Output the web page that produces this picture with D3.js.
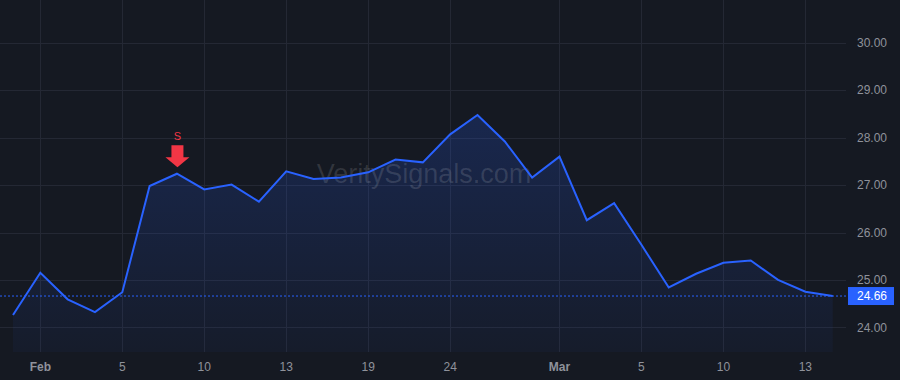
<!DOCTYPE html>
<html>
<head>
<meta charset="utf-8">
<script src="https://cdn.jsdelivr.net/npm/d3@7"></script>
<style>
  html, body { margin: 0; padding: 0; background: #151922; }
  svg { display: block; font-family: "Liberation Sans", Arial, sans-serif; }
</style>
</head>
<body>
<svg id="chart"></svg>
<script>
// datos
const prices = [24.26, 25.15, 24.59, 24.32, 24.74, 26.98, 27.24, 26.91, 27.01, 26.65,
                27.29, 27.13, 27.16, 27.27, 27.54, 27.48, 28.07, 28.48, 27.92, 27.16,
                27.60, 26.26, 26.62, 25.74, 24.84, 25.13, 25.36, 25.41, 25.00, 24.75, 24.66];
const tickIndex = [1, 4, 7, 10, 13, 16, 20, 23, 26, 29];
const tickLabels = ["Feb", "5", "10", "13", "19", "24", "Mar", "5", "10", "13"];
const monthLabels = ["Feb", "Mar"];
const yTicks = [24, 25, 26, 27, 28, 29, 30];
const signals = [{ i: 6, label: "S" }];
const lastPrice = 24.66;

const width = 900;
const height = 380;
const plotRight = 846;
const plotBottom = 352;

const svg = d3.select("#chart")
    .attr("width", width)
    .attr("height", height);

svg.append("rect").attr("width", width).attr("height", height).attr("fill", "#151922");

// escalas
const x = d3.scaleLinear().domain([0, prices.length - 1]).range([13, 832.7]);
const y = d3.scaleLinear().domain([23.479, 30.905]).range([plotBottom, 0]);

// rejilla
const grid = svg.append("g").attr("stroke", "#242834").attr("stroke-width", 1);
grid.selectAll(".hg").data(yTicks).enter().append("line")
    .attr("x1", 0).attr("x2", plotRight)
    .attr("y1", d => Math.round(y(d)) + 0.5).attr("y2", d => Math.round(y(d)) + 0.5);
grid.selectAll(".vg").data(tickIndex).enter().append("line")
    .attr("y1", 0).attr("y2", plotBottom)
    .attr("x1", d => Math.round(x(d)) + 0.5).attr("x2", d => Math.round(x(d)) + 0.5);

// degradado
const grad = svg.append("defs").append("linearGradient")
    .attr("id", "fill").attr("gradientUnits", "userSpaceOnUse")
    .attr("x1", 0).attr("x2", 0).attr("y1", y(d3.max(prices))).attr("y2", plotBottom);
grad.append("stop").attr("offset", 0).attr("stop-color", "#2962ff").attr("stop-opacity", 0.2);
grad.append("stop").attr("offset", 1).attr("stop-color", "#2962ff").attr("stop-opacity", 0.04);

const area = d3.area().x((d, i) => x(i)).y0(plotBottom).y1(d => y(d));
svg.append("path").datum(prices).attr("d", area).attr("fill", "url(#fill)");

// marca de agua
svg.append("text")
    .attr("x", 424).attr("y", 183)
    .attr("text-anchor", "middle")
    .attr("font-size", 27)
    .attr("fill", "#ffffff").attr("fill-opacity", 0.13)
    .text("VeritySignals.com");

// linea de precio actual
svg.append("line")
    .attr("x1", 0).attr("x2", plotRight)
    .attr("y1", y(lastPrice)).attr("y2", y(lastPrice))
    .attr("stroke", "#2962ff").attr("stroke-width", 1)
    .attr("stroke-dasharray", "2,2");

// linea
const line = d3.line().x((d, i) => x(i)).y(d => y(d));
svg.append("path").datum(prices).attr("d", line)
    .attr("fill", "none").attr("stroke", "#2962ff").attr("stroke-width", 2)
    .attr("stroke-linejoin", "miter");

// senales
signals.forEach(s => {
    const cx = x(s.i);
    const tip = y(prices[s.i]) - 6.5;
    svg.append("path")
        .attr("d", `M${cx - 5.5},${tip - 22} H${cx + 6.5} V${tip - 10} H${cx + 12.5} L${cx + 0.5},${tip} L${cx - 11.5},${tip - 10} H${cx - 5.5} Z`)
        .attr("fill", "#f23645");
    svg.append("text")
        .attr("x", cx + 0.5).attr("y", tip - 27)
        .attr("text-anchor", "middle")
        .attr("font-size", 11)
        .attr("fill", "#f23645")
        .text(s.label);
});

// eje y
svg.append("g").selectAll("text").data(yTicks).enter().append("text")
    .attr("x", 887).attr("y", d => y(d))
    .attr("dy", "0.35em")
    .attr("text-anchor", "end")
    .attr("font-size", 12)
    .attr("fill", "#8f929b")
    .text(d => d.toFixed(2));

// etiqueta del ultimo precio
const ly = y(lastPrice);
svg.append("rect")
    .attr("x", 848).attr("y", ly - 9).attr("width", 46).attr("height", 18)
    .attr("fill", "#2962ff");
svg.append("text")
    .attr("x", 887).attr("y", ly).attr("dy", "0.35em")
    .attr("text-anchor", "end")
    .attr("font-size", 12)
    .attr("fill", "#ffffff")
    .text(lastPrice.toFixed(2));

// eje x
svg.append("g").selectAll("text").data(tickIndex).enter().append("text")
    .attr("x", d => x(d)).attr("y", 367)
    .attr("dy", "0.35em")
    .attr("text-anchor", "middle")
    .attr("font-size", 12)
    .attr("font-weight", (d, i) => monthLabels.includes(tickLabels[i]) ? "bold" : "normal")
    .attr("fill", "#8f929b")
    .text((d, i) => tickLabels[i]);
</script>
</body>
</html>
